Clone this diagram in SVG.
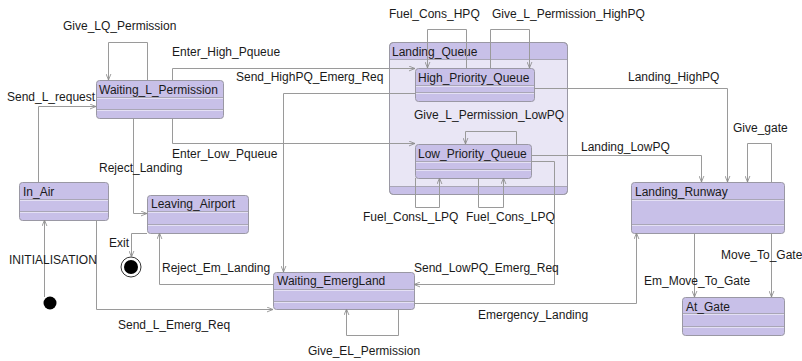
<svg xmlns="http://www.w3.org/2000/svg" width="802" height="361" viewBox="0 0 802 361">
  <style>
    .st { fill: #c8c0e8; stroke: #9a98a4; stroke-width: 1; }
    .comp { fill: #e9e6f5; stroke: #9a98a4; stroke-width: 1; }
    .sep { stroke: #a9a6b6; stroke-width: 1; fill: none; }
    .sepl { stroke: #e4e0f4; stroke-width: 1; fill: none; }
    .t { font-family: "Liberation Sans", Arial, sans-serif; font-size: 12px; fill: #1a1a1a; }
    .c { fill: none; stroke: #9a9a9a; stroke-width: 1; marker-end: url(#arr); }
  </style>
  <defs>
    <marker id="arr" viewBox="0 0 10 10" refX="10" refY="5" markerWidth="6" markerHeight="6" orient="auto" markerUnits="userSpaceOnUse">
      <path d="M0,1 L10,5 L0,9" fill="none" stroke="#8c8c8c" stroke-width="1.4"/>
    </marker>
  </defs>
  <rect width="802" height="361" fill="#ffffff"/>

  <!-- composite state -->
  <g id="Landing_Queue">
    <rect class="comp" x="389.5" y="42.5" width="178" height="152" rx="4"/>
    <path d="M390,59 V46 Q390,43 393,43 H564 Q567,43 567,46 V59 Z" fill="#c8c0e8"/>
    <path d="M390,187 V191 Q390,194 393,194 H564 Q567,194 567,191 V187 Z" fill="#c8c0e8"/>
    <rect x="389.5" y="42.5" width="178" height="152" rx="4" fill="none" stroke="#9a98a4"/>
    <line class="sep" x1="390" y1="59.5" x2="567" y2="59.5"/>
    <line class="sep" x1="390" y1="186.5" x2="567" y2="186.5"/>
    <text class="t" x="392" y="56">Landing_Queue</text>
  </g>

  <g id="Waiting_L_Permission">
    <rect class="st" x="96.5" y="80.5" width="127" height="38" rx="3"/>
    <line class="sep" x1="97" y1="97.5" x2="223" y2="97.5"/><line class="sepl" x1="97" y1="98.5" x2="223" y2="98.5"/>
    <line class="sep" x1="97" y1="109.5" x2="223" y2="109.5"/><line class="sepl" x1="97" y1="110.5" x2="223" y2="110.5"/>
    <text class="t" x="99" y="94">Waiting_L_Permission</text>
  </g>

  <g id="In_Air">
    <rect class="st" x="19.5" y="182.5" width="89" height="38" rx="3"/>
    <line class="sep" x1="20" y1="199.5" x2="108" y2="199.5"/><line class="sepl" x1="20" y1="200.5" x2="108" y2="200.5"/>
    <line class="sep" x1="20" y1="211.5" x2="108" y2="211.5"/><line class="sepl" x1="20" y1="212.5" x2="108" y2="212.5"/>
    <text class="t" x="23" y="196">In_Air</text>
  </g>

  <g id="Leaving_Airport">
    <rect class="st" x="147.5" y="195.5" width="101" height="38" rx="3"/>
    <line class="sep" x1="148" y1="211.5" x2="248" y2="211.5"/><line class="sepl" x1="148" y1="212.5" x2="248" y2="212.5"/>
    <line class="sep" x1="148" y1="224.5" x2="248" y2="224.5"/><line class="sepl" x1="148" y1="225.5" x2="248" y2="225.5"/>
    <text class="t" x="151" y="208">Leaving_Airport</text>
  </g>

  <g id="Waiting_EmergLand">
    <rect class="st" x="273.5" y="272.5" width="141" height="37" rx="3"/>
    <line class="sep" x1="274" y1="289.5" x2="414" y2="289.5"/><line class="sepl" x1="274" y1="290.5" x2="414" y2="290.5"/>
    <line class="sep" x1="274" y1="301.5" x2="414" y2="301.5"/><line class="sepl" x1="274" y1="302.5" x2="414" y2="302.5"/>
    <text class="t" x="277" y="285">Waiting_EmergLand</text>
  </g>

  <g id="High_Priority_Queue">
    <rect class="st" x="415.5" y="68.5" width="119" height="33" rx="3"/>
    <line class="sep" x1="416" y1="85.5" x2="534" y2="85.5"/><line class="sepl" x1="416" y1="86.5" x2="534" y2="86.5"/>
    <line class="sep" x1="416" y1="92.5" x2="534" y2="92.5"/><line class="sepl" x1="416" y1="93.5" x2="534" y2="93.5"/>
    <text class="t" x="418" y="82">High_Priority_Queue</text>
  </g>

  <g id="Low_Priority_Queue">
    <rect class="st" x="415.5" y="144.5" width="116" height="34" rx="3"/>
    <line class="sep" x1="416" y1="161.5" x2="531" y2="161.5"/><line class="sepl" x1="416" y1="162.5" x2="531" y2="162.5"/>
    <line class="sep" x1="416" y1="169.5" x2="531" y2="169.5"/><line class="sepl" x1="416" y1="170.5" x2="531" y2="170.5"/>
    <text class="t" x="418" y="158">Low_Priority_Queue</text>
  </g>

  <g id="Landing_Runway">
    <rect class="st" x="631.5" y="182.5" width="153" height="51" rx="3"/>
    <line class="sep" x1="632" y1="199.5" x2="784" y2="199.5"/><line class="sepl" x1="632" y1="200.5" x2="784" y2="200.5"/>
    <line class="sep" x1="632" y1="224.5" x2="784" y2="224.5"/><line class="sepl" x1="632" y1="225.5" x2="784" y2="225.5"/>
    <text class="t" x="635" y="196">Landing_Runway</text>
  </g>

  <g id="At_Gate">
    <rect class="st" x="682.5" y="297.5" width="102" height="38" rx="3"/>
    <line class="sep" x1="683" y1="313.5" x2="784" y2="313.5"/><line class="sepl" x1="683" y1="314.5" x2="784" y2="314.5"/>
    <line class="sep" x1="683" y1="326.5" x2="784" y2="326.5"/><line class="sepl" x1="683" y1="327.5" x2="784" y2="327.5"/>
    <text class="t" x="686" y="311">At_Gate</text>
  </g>

  <g id="Initial">
    <circle cx="50" cy="303" r="6.5" fill="#000"/>
  </g>

  <g id="Final">
    <circle cx="131" cy="267" r="10" fill="#fff" stroke="#333" stroke-width="1"/>
    <circle cx="131" cy="267" r="7" fill="#000"/>
  </g>

  <!-- transitions -->
  <g id="connectors">
    <path class="c" d="M147.5,80 V42.5 H108.5 V80"/>
    <path class="c" d="M38.5,182 V106.5 H96"/>
    <path class="c" d="M172.5,80 V68.5 H415"/>
    <path class="c" d="M415,93.5 H283.5 V272"/>
    <path class="c" d="M172.5,118 V143.5 H415"/>
    <path class="c" d="M133.5,118 V213.5 H147"/>
    <path class="c" d="M147,233.5 H131.5 V257"/>
    <path class="c" d="M44.5,297 V220"/>
    <path class="c" d="M96.5,220 V309.5 H273"/>
    <path class="c" d="M273,284.5 H159.5 V233"/>
    <path class="c" d="M398.5,309 V335.5 H346.5 V309"/>
    <path class="c" d="M531,161.5 H554.5 V284.5 H414"/>
    <path class="c" d="M531,155.5 H701.5 V182"/>
    <path class="c" d="M534,88.5 H727.5 V182"/>
    <path class="c" d="M771.5,182 V143.5 H747.5 V182"/>
    <path class="c" d="M771.5,233 V297"/>
    <path class="c" d="M694.5,233 V297"/>
    <path class="c" d="M414,303.5 H636.5 V233"/>
    <path class="c" d="M466.5,68 V29.5 H427.5 V68"/>
    <path class="c" d="M490.5,68 V29.5 H529.5 V68"/>
    <path class="c" d="M516.5,144 V131.5 H465.5 V144"/>
    <path class="c" d="M415.5,178 V207.5 H439.5 V178"/>
    <path class="c" d="M478.5,178 V207.5 H503.5 V178"/>

    <text class="t" x="63" y="30">Give_LQ_Permission</text>
    <text class="t" x="7" y="101">Send_L_request</text>
    <text class="t" x="172" y="56">Enter_High_Pqueue</text>
    <text class="t" x="236" y="81">Send_HighPQ_Emerg_Req</text>
    <text class="t" x="172" y="158">Enter_Low_Pqueue</text>
    <text class="t" x="99" y="172">Reject_Landing</text>
    <text class="t" x="109" y="247">Exit</text>
    <text class="t" x="9" y="264">INITIALISATION</text>
    <text class="t" x="118" y="329">Send_L_Emerg_Req</text>
    <text class="t" x="162" y="272">Reject_Em_Landing</text>
    <text class="t" x="308" y="355">Give_EL_Permission</text>
    <text class="t" x="414" y="272">Send_LowPQ_Emerg_Req</text>
    <text class="t" x="581" y="151">Landing_LowPQ</text>
    <text class="t" x="628" y="81">Landing_HighPQ</text>
    <text class="t" x="733" y="132">Give_gate</text>
    <text class="t" x="721" y="259">Move_To_Gate</text>
    <text class="t" x="644" y="285">Em_Move_To_Gate</text>
    <text class="t" x="478" y="319">Emergency_Landing</text>
    <text class="t" x="389" y="18">Fuel_Cons_HPQ</text>
    <text class="t" x="492" y="18">Give_L_Permission_HighPQ</text>
    <text class="t" x="414" y="119">Give_L_Permission_LowPQ</text>
    <text class="t" x="363" y="221">Fuel_ConsL_LPQ</text>
    <text class="t" x="466" y="221">Fuel_Cons_LPQ</text>
  </g>
</svg>
